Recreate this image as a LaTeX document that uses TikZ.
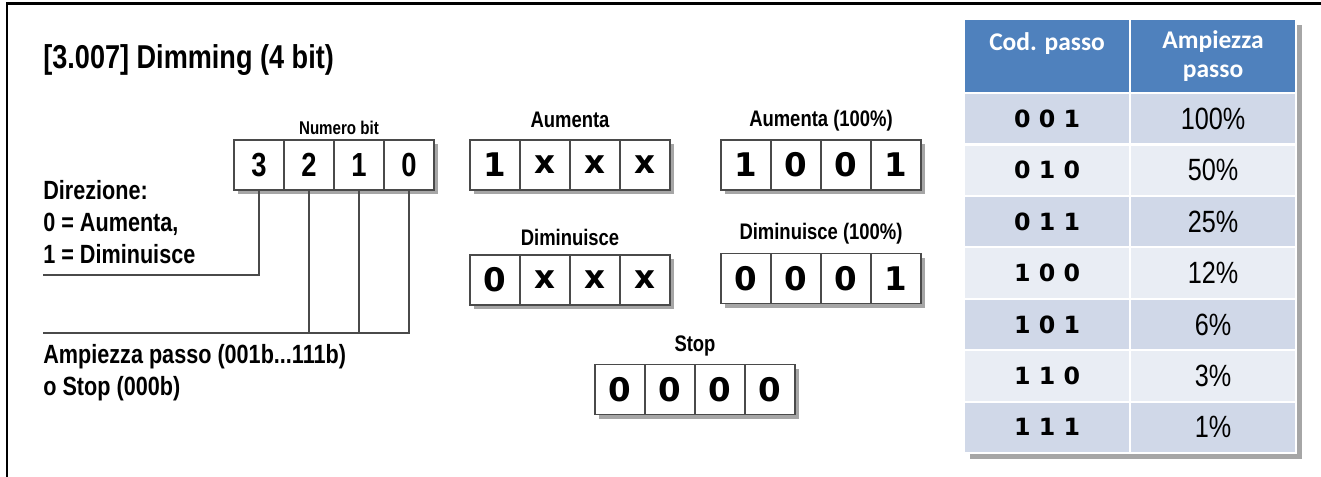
\documentclass[tikz,border=0pt]{standalone}
\usepackage{fontspec}
\setmainfont{Liberation Sans}
\newfontfamily\stretta[FakeStretch=0.82]{Liberation Sans}
\newfontfamily\cifre{DejaVu Sans}
\newfontfamily\calibri{Carlito}
\usetikzlibrary{shadows}
\definecolor{testata}{HTML}{4F81BD}
\definecolor{rigaA}{HTML}{D0D8E8}
\definecolor{rigaB}{HTML}{E9EDF4}
\definecolor{bordo}{HTML}{4A4A4A}
\tikzset{
  ombra/.style={drop shadow={shadow xshift=2.5pt, shadow yshift=-2.5pt, opacity=0.35, fill=black}},
  cella/.style={draw=bordo, line width=0.7pt, fill=white, minimum width=1cm, minimum height=1cm, inner sep=0pt, ombra, font=\cifre\bfseries\fontsize{18.5}{22}\selectfont},
  bitcella/.style={cella, font=\stretta\bfseries\fontsize{19}{22}\selectfont},
  etichetta/.style={font=\stretta\bfseries\fontsize{12.8}{15}\selectfont},
  testo/.style={font=\stretta\bfseries\fontsize{15}{18.2}\selectfont, align=left, inner sep=0pt},
  linea/.style={draw=bordo, line width=0.6pt},
  tabcella/.style={draw=white, line width=1.2pt, minimum width=3.32cm, minimum height=1.0286cm, inner sep=0pt, anchor=north west},
}
\begin{document}
\begin{tikzpicture}
\useasboundingbox (0,0) rectangle (26.42,9.54);
% cornice
\draw[line width=1.7pt] (0.14,0) -- (0.14,9.46) -- (26.42,9.46);

% titolo
\node[testo, anchor=west, font=\stretta\bfseries\fontsize{18.8}{22}\selectfont] (titolo) at (0.86,8.34) {[3.007] Dimming (4 bit)};

% numero bit
\node[etichetta, font=\stretta\bfseries\fontsize{10.5}{12}\selectfont] (nbit) at (6.78,6.98) {Numero bit};
\foreach \v [count=\i] in {3,2,1,0}
  \node[bitcella] (nb\i) at ({4.18+\i},6.24) {\v};

\coordinate (cdir) at (0.86,4.04);
\coordinate (campl) at (0.86,2.88);
\draw[linea] (nb1.south) |- (cdir);
\draw[linea] (nb4.south) |- (campl);
\draw[linea] (nb2.south) -- (nb2.south |- campl);
\draw[linea] (nb3.south) -- (nb3.south |- campl);

\node[testo, anchor=west] (direz) at (0.86,5.10) {Direzione:\\0 = Aumenta,\\1 = Diminuisce};
\node[testo, anchor=west] (ampl) at (0.86,2.09) {Ampiezza passo (001b...111b)\\o Stop (000b)};

% esempi
\node[etichetta] (laum) at (11.4,7.14) {Aumenta};
\foreach \v [count=\i] in {1,x,x,x}
  \node[cella] (aum\i) at ({8.9+\i},6.24) {\v};
\node[etichetta] (laumc) at (16.42,7.12) {Aumenta (100\%)};
\foreach \v [count=\i] in {1,0,0,1}
  \node[cella] (aumc\i) at ({13.92+\i},6.24) {\v};
\node[etichetta] (ldim) at (11.4,4.80) {Diminuisce};
\foreach \v [count=\i] in {0,x,x,x}
  \node[cella] (dim\i) at ({8.9+\i},3.94) {\v};
\node[etichetta] (ldimc) at (16.42,4.86) {Diminuisce (100\%)};
\foreach \v [count=\i] in {0,0,0,1}
  \node[cella] (dimc\i) at ({13.92+\i},3.97) {\v};
\node[etichetta] (lstop) at (13.9,2.62) {Stop};
\foreach \v [count=\i] in {0,0,0,0}
  \node[cella] (stop\i) at ({11.4+\i},1.75) {\v};

% tabella
\fill[white, drop shadow={shadow xshift=4pt, shadow yshift=-4pt, opacity=0.35, fill=black}] (19.26,0.5) rectangle (25.9,9.18);
\node[tabcella, fill=testata, minimum height=1.48cm, text=white, align=center, font=\calibri\bfseries\fontsize{14.5}{17}\selectfont] (hcod) at (19.26,9.18) {Cod. passo\\ \mbox{}};
\node[tabcella, fill=testata, minimum height=1.48cm, text=white, align=center, font=\calibri\bfseries\fontsize{14.5}{17}\selectfont] (hamp) at (22.58,9.18) {Ampiezza\\passo};
\foreach \c/\p [count=\i] in {0 0 1/100,0 1 0/50,0 1 1/25,1 0 0/12,1 0 1/6,1 1 0/3,1 1 1/1}{
  \ifodd\i \def\colriga{rigaA}\else\def\colriga{rigaB}\fi
  \node[tabcella, fill=\colriga, font=\cifre\bfseries\fontsize{13.5}{16}\selectfont] (cod\i) at (19.26,{7.70-(\i-1)*1.0286}) {\c};
  \node[tabcella, fill=\colriga, text=black, font=\stretta\fontsize{17.5}{20}\selectfont] (amp\i) at (22.58,{7.70-(\i-1)*1.0286}) {\p\%};
}
\end{tikzpicture}
\end{document}
